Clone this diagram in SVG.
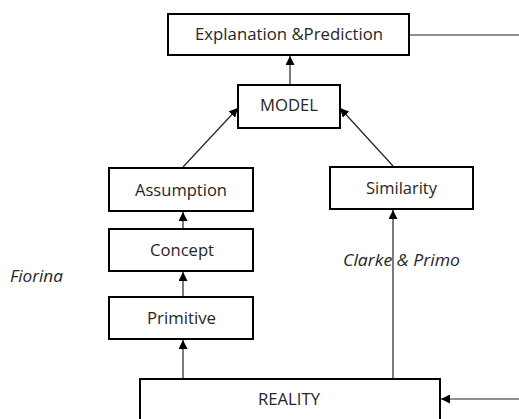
<svg xmlns="http://www.w3.org/2000/svg" width="519" height="419" viewBox="0 0 519 419">
<style>
.box{fill:#fff;stroke:#000;stroke-width:2}
.lbl{font-family:"Open Sans","Liberation Sans",sans-serif;font-size:15.5px;fill:#262626;text-anchor:middle}
.it{font-family:"Open Sans","Liberation Sans",sans-serif;font-size:15.5px;font-style:italic;fill:#262626}
.ln{stroke:#222;stroke-width:1.2;fill:none}
</style>
<defs>
<marker id="ah" viewBox="0 0 10 10" refX="10" refY="5" markerWidth="9" markerHeight="9" markerUnits="userSpaceOnUse" orient="auto">
<path d="M0,0 L10,5 L0,10 z" fill="#000"/>
</marker>
</defs>
<g id="connectors">
<line class="ln" x1="409" y1="35" x2="519" y2="35"/>
<line class="ln" x1="290" y1="85" x2="290" y2="56" marker-end="url(#ah)"/>
<line class="ln" x1="183" y1="167" x2="238" y2="108" marker-end="url(#ah)"/>
<line class="ln" x1="393" y1="166" x2="340" y2="108" marker-end="url(#ah)"/>
<line class="ln" x1="183" y1="229" x2="183" y2="212" marker-end="url(#ah)"/>
<line class="ln" x1="183" y1="297" x2="183" y2="272" marker-end="url(#ah)"/>
<line class="ln" x1="183" y1="379" x2="183" y2="340" marker-end="url(#ah)"/>
<line class="ln" x1="393" y1="379" x2="393" y2="210" marker-end="url(#ah)"/>
<line class="ln" x1="519" y1="399" x2="441" y2="399" marker-end="url(#ah)"/>
</g>
<g id="explanation"><rect class="box" x="168" y="14" width="241" height="41"/><text class="lbl" x="289" y="40" textLength="188" lengthAdjust="spacingAndGlyphs">Explanation &amp;Prediction</text></g>
<g id="model"><rect class="box" x="238" y="85" width="102" height="43"/><text class="lbl" x="289" y="111" textLength="58" lengthAdjust="spacingAndGlyphs">MODEL</text></g>
<g id="assumption"><rect class="box" x="109" y="168" width="144" height="43"/><text class="lbl" x="181" y="195.5" textLength="92" lengthAdjust="spacingAndGlyphs">Assumption</text></g>
<g id="concept"><rect class="box" x="109" y="229" width="144" height="42"/><text class="lbl" x="182" y="255.5" textLength="64" lengthAdjust="spacingAndGlyphs">Concept</text></g>
<g id="primitive"><rect class="box" x="109" y="297" width="144" height="42"/><text class="lbl" x="181.5" y="323.5" textLength="69" lengthAdjust="spacingAndGlyphs">Primitive</text></g>
<g id="similarity"><rect class="box" x="330" y="167" width="143" height="42"/><text class="lbl" x="401.5" y="193.5" textLength="71" lengthAdjust="spacingAndGlyphs">Similarity</text></g>
<g id="reality"><rect class="box" x="140" y="379" width="300" height="50"/><text class="lbl" x="289" y="404.5" textLength="62" lengthAdjust="spacingAndGlyphs">REALITY</text></g>
<text class="it" x="343" y="266" textLength="117" lengthAdjust="spacingAndGlyphs">Clarke &amp; Primo</text>
<text class="it" x="10" y="282" textLength="53" lengthAdjust="spacingAndGlyphs">Fiorina</text>
</svg>
